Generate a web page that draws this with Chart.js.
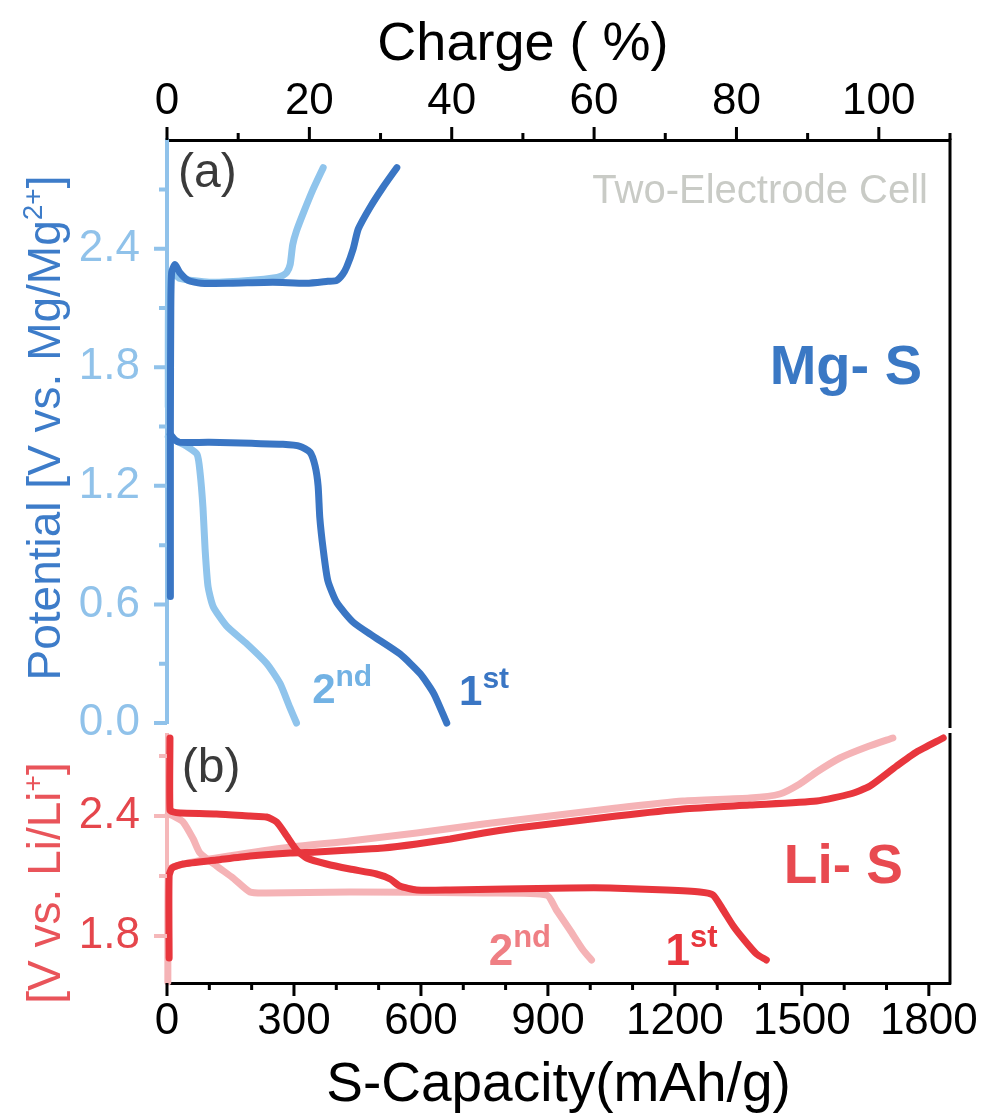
<!DOCTYPE html>
<html>
<head>
<meta charset="utf-8">
<script src="https://cdn.jsdelivr.net/npm/chart.js@4.4.1/dist/chart.umd.min.js"></script>
<style>
  body { margin: 0; background: #fff; }
  #wrap { position: relative; width: 982px; height: 1115px; }
  #top-box { position: absolute; left: 0; top: 0; width: 982px; height: 760px; }
  #bot-box { position: absolute; left: 0; top: 730px; width: 982px; height: 385px; }
</style>
</head>
<body>
<div id="wrap">
  <div id="top-box"><canvas id="mg"></canvas></div>
  <div id="bot-box"><canvas id="li"></canvas></div>
</div>
<script>
// Mg-S cell (panel a): capacity in mAh/g, potential in V vs. Mg/Mg2+
const mg1DisX = [8, 20, 31, 100, 200, 274, 314, 338, 350, 357, 361, 369, 380, 401, 440, 487, 550, 598, 630, 661];
const mg1DisY = [1.46, 1.43, 1.42, 1.42, 1.415, 1.41, 1.40, 1.37, 1.30, 1.20, 1.04, 0.88, 0.72, 0.61, 0.51, 0.44, 0.35, 0.25, 0.15, 0.0];
const mg1ChgX = [8, 8, 9, 11, 19, 30, 50, 80, 150, 250, 330, 380, 401, 415, 425, 440, 452, 480, 510, 543];
const mg1ChgY = [0.64, 1.5, 2.1, 2.28, 2.32, 2.28, 2.24, 2.225, 2.225, 2.23, 2.225, 2.235, 2.24, 2.27, 2.31, 2.40, 2.50, 2.61, 2.71, 2.81];
const mg2DisX = [3, 20, 47, 71, 78, 85, 90, 97, 109, 141, 189, 236, 267, 290, 306];
const mg2DisY = [1.45, 1.43, 1.40, 1.36, 1.27, 1.09, 0.88, 0.69, 0.59, 0.49, 0.40, 0.30, 0.20, 0.08, 0.0];
const mg2ChgX = [3, 4, 12, 30, 100, 200, 260, 274, 283, 291, 297, 306, 322, 345, 369];
const mg2ChgY = [1.6, 2.2, 2.28, 2.25, 2.23, 2.24, 2.255, 2.265, 2.28, 2.32, 2.42, 2.49, 2.58, 2.70, 2.81];

// Li-S cell (panel b): capacity in mAh/g, potential in V vs. Li/Li+
const li1DisX = [7, 7, 15, 31, 117, 196, 235, 259, 283, 306, 330, 377, 432, 495, 527, 550, 590, 669, 800, 952, 1047, 1180, 1259, 1290, 1314, 1338, 1362, 1393, 1416];
const li1DisY = [2.79, 2.43, 2.42, 2.415, 2.41, 2.40, 2.395, 2.37, 2.30, 2.23, 2.19, 2.16, 2.135, 2.11, 2.085, 2.05, 2.03, 2.03, 2.035, 2.04, 2.04, 2.03, 2.02, 2.005, 1.93, 1.85, 1.785, 1.71, 1.68];
const li1ChgX = [5, 5, 12, 38, 117, 196, 291, 354, 432, 511, 590, 669, 748, 826, 905, 1062, 1219, 1377, 1535, 1614, 1661, 1724, 1771, 1834];
const li1ChgY = [1.69, 2.10, 2.14, 2.16, 2.18, 2.20, 2.215, 2.22, 2.23, 2.24, 2.26, 2.285, 2.315, 2.34, 2.36, 2.40, 2.435, 2.455, 2.475, 2.51, 2.55, 2.65, 2.72, 2.79];
const li2DisX = [3, 15, 38, 62, 78, 117, 156, 196, 235, 432, 748, 897, 920, 952, 983, 1003];
const li2DisY = [2.41, 2.40, 2.37, 2.285, 2.215, 2.15, 2.09, 2.02, 2.015, 2.02, 2.015, 2.005, 1.93, 1.83, 1.73, 1.68];
const li2ChgX = [2, 3, 10, 40, 117, 275, 432, 590, 748, 905, 1062, 1219, 1377, 1448, 1495, 1535, 1590, 1653, 1715];
const li2ChgY = [1.57, 2.10, 2.14, 2.16, 2.19, 2.24, 2.275, 2.315, 2.36, 2.40, 2.44, 2.475, 2.49, 2.51, 2.56, 2.62, 2.69, 2.745, 2.79];

// axes
const capTicks = [0, 300, 600, 900, 1200, 1500, 1800];
const capMinor = [100, 200, 400, 500, 700, 800, 1000, 1100, 1300, 1400, 1600, 1700];
const chargeTicks = [0, 20, 40, 60, 80, 100];
const chargeMinor = [10, 30, 50, 70, 90, 110];
const mgTicks = [0, 0.6, 1.2, 1.8, 2.4];
const mgMinor = [0.3, 0.9, 1.5, 2.1, 2.7];
const liTicks = [1.8, 2.4];
const liMinor = [2.1, 2.7];

const FONT = '"Liberation Sans", Arial, sans-serif';
const MG_DARK = '#3a76c4';
const MG_LIGHT = '#8fc4ec';
const MG_AXIS = '#90c2ea';
const LI_DARK = '#e8363d';
const LI_LIGHT = '#f5b3b6';
const LI_AXIS = '#f5b8ba';

const pts = (xs, ys) => xs.map((x, i) => ({ x, y: ys[i] }));

const line = (label, xs, ys, color) => ({
  label,
  data: pts(xs, ys),
  xAxisID: 'x',
  yAxisID: 'y',
  borderColor: color,
  backgroundColor: color,
  borderWidth: 7,
  pointRadius: 0,
  tension: 0.2,
  fill: false,
  clip: false,
  borderCapStyle: 'round',
  borderJoinStyle: 'round',
});

// text with superscripts: parts = [{text, size, bold, rise, color}]
const drawRich = (ctx, parts, x, y, align) => {
  let total = 0;
  parts.forEach((p) => {
    ctx.font = `${p.bold ? 'bold ' : ''}${p.size}px ${FONT}`;
    p.w = ctx.measureText(p.text).width;
    total += p.w;
  });
  let cx = align === 'right' ? x - total : align === 'center' ? x - total / 2 : x;
  ctx.textAlign = 'left';
  ctx.textBaseline = 'alphabetic';
  parts.forEach((p) => {
    ctx.font = `${p.bold ? 'bold ' : ''}${p.size}px ${FONT}`;
    ctx.fillStyle = p.color;
    ctx.fillText(p.text, cx, y - (p.rise || 0));
    cx += p.w;
  });
};

// outward tick marks
const tickMarks = (chart, id, values, len, color, width) => {
  const s = chart.scales[id];
  const ctx = chart.ctx;
  ctx.save();
  ctx.strokeStyle = color;
  ctx.lineWidth = width;
  ctx.beginPath();
  values.forEach((v) => {
    const p = s.getPixelForValue(v);
    if (s.position === 'left') {
      ctx.moveTo(s.right, p);
      ctx.lineTo(s.right - len, p);
    } else if (s.position === 'top') {
      ctx.moveTo(p, s.bottom);
      ctx.lineTo(p, s.bottom - len);
    } else {
      ctx.moveTo(p, s.top);
      ctx.lineTo(p, s.top + len);
    }
  });
  ctx.stroke();
  ctx.restore();
};

const ordinal = (num, sup, color, big, small, rise) => [
  { text: num, size: big, bold: true, color },
  { text: sup, size: small, bold: true, color, rise },
];

// fixed axis box sizes, no extra label padding
const fixBox = (w, h) => (s) => {
  if (w !== null) s.width = w;
  if (h !== null) s.height = h;
  s.paddingTop = 0;
  s.paddingBottom = 0;
  s.paddingLeft = 0;
  s.paddingRight = 0;
};

const mgDecor = {
  id: 'mgDecor',
  afterDraw(chart) {
    const { ctx, chartArea: a, scales } = chart;
    const px = (v) => scales.x.getPixelForValue(v);
    const py = (v) => scales.y.getPixelForValue(v);

    tickMarks(chart, 'xTop', chargeTicks, 13, '#000', 3);
    tickMarks(chart, 'xTop', chargeMinor, 7, '#000', 3);
    tickMarks(chart, 'y', mgTicks, 13, MG_AXIS, 4);
    tickMarks(chart, 'y', mgMinor, 8, MG_AXIS, 4);

    ctx.save();
    ctx.strokeStyle = '#000';
    ctx.lineWidth = 3;
    ctx.beginPath();
    ctx.moveTo(a.right, a.top - 1.5);
    ctx.lineTo(a.right, a.bottom + 5);
    ctx.stroke();

    // top axis title
    drawRich(ctx, [{ text: 'Charge ( %)', size: 54, color: '#000' }], scales.xTop.getPixelForValue(50), 60, 'center');

    // left axis title
    ctx.save();
    ctx.translate(60, 428);
    ctx.rotate(-Math.PI / 2);
    drawRich(ctx, [
      { text: 'Potential [V vs. Mg/Mg', size: 46, color: '#3d7cc9' },
      { text: '2+', size: 28, color: '#3d7cc9', rise: 18 },
      { text: ']', size: 46, color: '#3d7cc9' },
    ], 0, 0, 'center');
    ctx.restore();

    drawRich(ctx, [{ text: '(a)', size: 48, color: '#3a3a3a' }], px(26), py(2.71), 'left');
    drawRich(ctx, [{ text: 'Two-Electrode Cell', size: 40, color: '#c9cbc6' }], px(1798), py(2.63), 'right');
    drawRich(ctx, [{ text: 'Mg- S', size: 56, bold: true, color: '#3a78c4' }], px(1784), py(1.715), 'right');
    drawRich(ctx, ordinal('2', 'nd', '#72b2e4', 42, 30, 17), px(343), py(0.1), 'left');
    drawRich(ctx, ordinal('1', 'st', MG_DARK, 42, 30, 17), px(690), py(0.09), 'left');
    ctx.restore();
  },
};

const liDecor = {
  id: 'liDecor',
  afterDraw(chart) {
    const { ctx, chartArea: a, scales } = chart;
    const px = (v) => scales.x.getPixelForValue(v);
    const py = (v) => scales.y.getPixelForValue(v);

    tickMarks(chart, 'x', capTicks, 13, '#000', 3);
    tickMarks(chart, 'x', capMinor, 7, '#000', 3);
    tickMarks(chart, 'y', liTicks, 13, LI_AXIS, 4);
    tickMarks(chart, 'y', liMinor, 8, LI_AXIS, 4);

    ctx.save();
    ctx.strokeStyle = '#000';
    ctx.lineWidth = 3;
    ctx.beginPath();
    ctx.moveTo(a.right, a.top - 2);
    ctx.lineTo(a.right, a.bottom + 1.5);
    ctx.stroke();

    drawRich(ctx, [{ text: 'S-Capacity(mAh/g)', size: 55, color: '#000' }], (a.left + a.right) / 2, 371, 'center');

    ctx.save();
    ctx.translate(60, 153);
    ctx.rotate(-Math.PI / 2);
    drawRich(ctx, [
      { text: '[V vs. Li/Li', size: 46, color: '#e9545a' },
      { text: '+', size: 28, color: '#e9545a', rise: 18 },
      { text: ']', size: 46, color: '#e9545a' },
    ], 0, 0, 'center');
    ctx.restore();

    drawRich(ctx, [{ text: '(b)', size: 48, color: '#3a3a3a' }], px(35), py(2.57), 'left');
    drawRich(ctx, [{ text: 'Li- S', size: 55, bold: true, color: '#e84a50' }], px(1739), py(2.065), 'right');
    drawRich(ctx, ordinal('2', 'nd', '#ef7f84', 44, 31, 18), px(760), py(1.655), 'left');
    drawRich(ctx, ordinal('1', 'st', LI_DARK, 44, 31, 18), px(1178), py(1.655), 'left');
    ctx.restore();
  },
};

const tickFont = { family: FONT, size: 44 };

const mgChart = new Chart(document.getElementById('mg'), {
  type: 'line',
  data: {
    datasets: [
      line('Mg-S 1st discharge', mg1DisX, mg1DisY, MG_DARK),
      line('Mg-S 1st charge', mg1ChgX, mg1ChgY, MG_DARK),
      line('Mg-S 2nd discharge', mg2DisX, mg2DisY, MG_LIGHT),
      line('Mg-S 2nd charge', mg2ChgX, mg2ChgY, MG_LIGHT),
    ],
  },
  options: {
    responsive: true,
    maintainAspectRatio: false,
    animation: false,
    layout: { padding: { left: 0, top: 0, right: 32, bottom: 37 } },
    plugins: { legend: { display: false }, tooltip: { enabled: false } },
    scales: {
      x: { type: 'linear', position: 'bottom', display: false, min: 0, max: 1850 },
      xTop: {
        type: 'linear',
        axis: 'x',
        position: 'top',
        min: 0,
        max: 110,
        afterFit: fixBox(null, 140),
        afterBuildTicks: (s) => { s.ticks = chargeTicks.map((v) => ({ value: v })); },
        grid: { display: false, drawTicks: false },
        border: { display: true, color: '#000', width: 3 },
        ticks: { color: '#000', font: tickFont, padding: 12, maxRotation: 0, autoSkip: false, callback: (v) => String(v) },
      },
      y: {
        type: 'linear',
        position: 'left',
        min: 0,
        max: 2.95,
        afterFit: fixBox(167, null),
        afterBuildTicks: (s) => { s.ticks = mgTicks.map((v) => ({ value: v })); },
        grid: { display: false, drawTicks: false },
        border: { display: true, color: MG_AXIS, width: 4 },
        ticks: { color: MG_AXIS, font: tickFont, padding: 27, callback: (v) => v.toFixed(1) },
      },
    },
  },
  plugins: [mgDecor],
});

const liChart = new Chart(document.getElementById('li'), {
  type: 'line',
  data: {
    datasets: [
      line('Li-S 1st discharge', li1DisX, li1DisY, LI_DARK),
      line('Li-S 1st charge', li1ChgX, li1ChgY, LI_DARK),
      line('Li-S 2nd discharge', li2DisX, li2DisY, LI_LIGHT),
      line('Li-S 2nd charge', li2ChgX, li2ChgY, LI_LIGHT),
    ],
  },
  options: {
    responsive: true,
    maintainAspectRatio: false,
    animation: false,
    layout: { padding: { left: 0, top: 5, right: 32, bottom: 0 } },
    plugins: { legend: { display: false }, tooltip: { enabled: false } },
    scales: {
      x: {
        type: 'linear',
        position: 'bottom',
        min: 0,
        max: 1850,
        afterFit: fixBox(null, 132),
        afterBuildTicks: (s) => { s.ticks = capTicks.map((v) => ({ value: v })); },
        grid: { display: false, drawTicks: false },
        border: { display: true, color: '#000', width: 3 },
        ticks: { color: '#000', font: tickFont, padding: 12, maxRotation: 0, autoSkip: false, callback: (v) => String(v) },
      },
      y: {
        type: 'linear',
        position: 'left',
        min: 1.565,
        max: 2.805,
        afterFit: fixBox(167, null),
        afterBuildTicks: (s) => { s.ticks = liTicks.map((v) => ({ value: v })); },
        grid: { display: false, drawTicks: false },
        border: { display: true, color: LI_AXIS, width: 4 },
        ticks: { color: '#e5464c', font: tickFont, padding: 27, callback: (v) => v.toFixed(1) },
      },
    },
  },
  plugins: [liDecor],
});
</script>
</body>
</html>
